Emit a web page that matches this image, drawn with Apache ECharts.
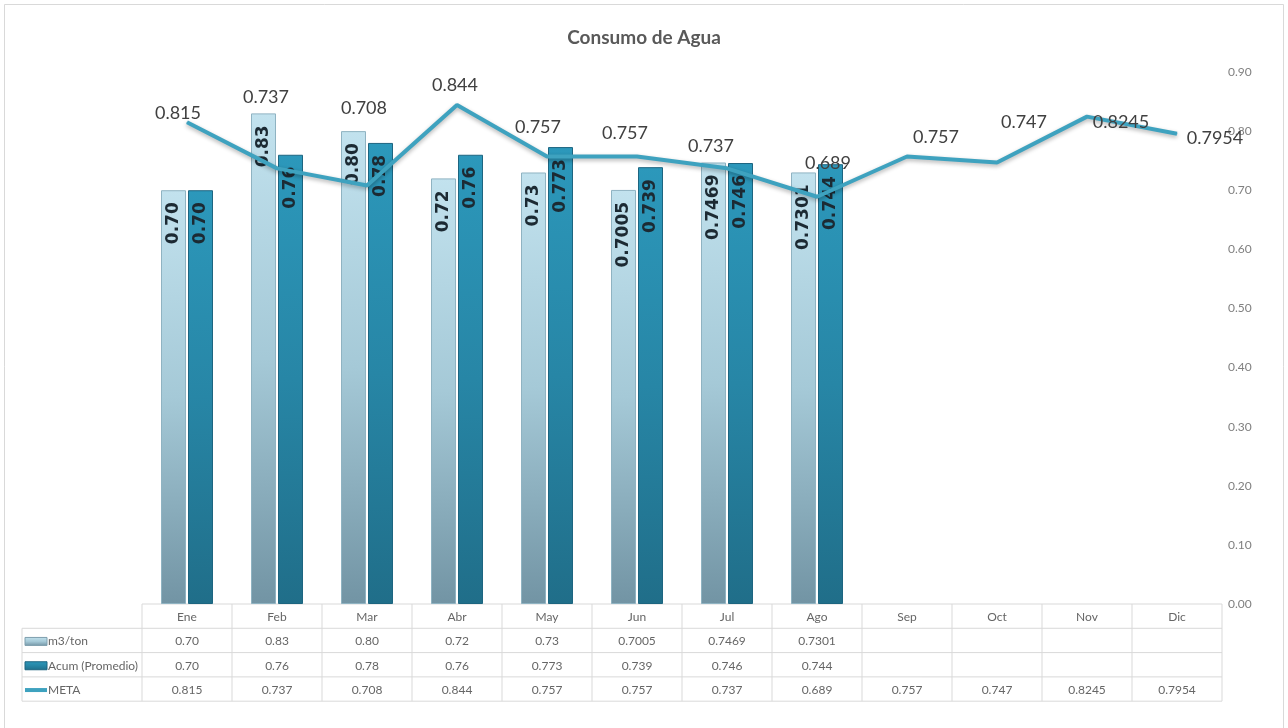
<!DOCTYPE html>
<html>
<head>
<meta charset="utf-8">
<script src="https://cdn.jsdelivr.net/npm/echarts@6/dist/echarts.min.js"></script>
<style>
html,body{margin:0;padding:0;background:#fff;}
#main{width:1288px;height:728px;}
</style>
</head>
<body>
<div id="main"></div>
<script>
const titleText = 'Consumo de Agua';
const months = ['Ene','Feb','Mar','Abr','May','Jun','Jul','Ago','Sep','Oct','Nov','Dic'];
const m3ton = [0.70,0.83,0.80,0.72,0.73,0.7005,0.7469,0.7301,null,null,null,null];
const acum = [0.70,0.76,0.78,0.76,0.773,0.739,0.746,0.744,null,null,null,null];
const meta = [0.815,0.737,0.708,0.844,0.757,0.757,0.737,0.689,0.757,0.747,0.8245,0.7954];
const seriesNames = ['m3/ton','Acum (Promedio)','META'];
const yTicks = [0,0.9,0.1];

// label placement style (not data)
const metaLabelOffset = [[-9,5],[-11,-57],[-3,-63],[-2,-5],[-9,-15],[-12,-9],[-16,-8],[11,-19],[29,-5],[27,-26],[34,20],[38,19]];

function fmt(v){
  if (v === null || v === undefined) return '';
  const s = String(v);
  const dec = (s.split('.')[1] || '').length;
  return dec < 2 ? v.toFixed(2) : s;
}

const chart = echarts.init(document.getElementById('main'));
const lightGrad = new echarts.graphic.LinearGradient(0,0,0,1,[{offset:0,color:'#c2e2ee'},{offset:0.5,color:'#a5c9d7'},{offset:1,color:'#7294a4'}]);
const darkGrad = new echarts.graphic.LinearGradient(0,0,0,1,[{offset:0,color:'#2c98bb'},{offset:0.5,color:'#2786a6'},{offset:1,color:'#206e89'}]);
const barLabel = {
  show:true, rotate:90, position:'insideTop', distance:12, align:'right', verticalAlign:'middle',
  fontFamily:'DejaVu Sans', fontWeight:'bold', fontSize:17, color:'#1c2a33',
  formatter: p => fmt(p.value)
};

chart.setOption({
  animation:false,
  backgroundColor:'#ffffff',
  title:{text:titleText,left:'center',top:23,textStyle:{fontFamily:'Lato',fontWeight:'bold',fontSize:19,color:'#595959'}},
  grid:{left:142,right:66,top:72,bottom:124},
  xAxis:{type:'category',data:months,axisLine:{show:false},axisTick:{show:false},axisLabel:{show:false}},
  yAxis:{type:'value',position:'right',min:yTicks[0],max:yTicks[1],interval:yTicks[2],
    splitLine:{show:false},axisLine:{show:false},axisTick:{show:false},
    axisLabel:{margin:6,color:'#808080',fontFamily:'Lato',fontSize:12,formatter:v=>v.toFixed(2)}},
  series:[
    {name:seriesNames[0],type:'bar',data:m3ton,barWidth:25,barGap:'8%',
      itemStyle:{color:lightGrad,borderColor:'#8fb3c2',borderWidth:1},label:barLabel},
    {name:seriesNames[1],type:'bar',data:acum,barWidth:25,
      itemStyle:{color:darkGrad,borderColor:'#1d6580',borderWidth:1},label:barLabel},
    {name:seriesNames[2],type:'line',z:5,
      data:meta.map((v,i)=>({value:v,label:{offset:metaLabelOffset[i]}})),
      symbol:'circle',symbolSize:1,showSymbol:true,
      itemStyle:{color:'#3ea2bf'},
      lineStyle:{color:'#3ea2bf',width:4,shadowColor:'rgba(0,0,0,0.3)',shadowBlur:4,shadowOffsetY:2},
      label:{show:true,position:'top',fontFamily:'Lato',fontSize:18,color:'#404040',formatter:p=>String(p.value)}}
  ]
});

// data table under the chart
const g = [];
const lineColor = '#d9d9d9';
const cx = months.map((m,i)=>chart.convertToPixel({xAxisIndex:0},i));
const colW = cx[1]-cx[0];
const x0 = cx[0]-colW/2, x1 = cx[cx.length-1]+colW/2;
const y0 = chart.convertToPixel({yAxisIndex:0},0);
const rowH = 24.3;
const legX = 22;
const rows = [m3ton, acum, meta];
const font = '12px Lato, sans-serif';
const txtColor = '#666666';
// horizontal lines
g.push({type:'line',shape:{x1:x0,y1:y0,x2:x1,y2:y0},style:{stroke:lineColor,lineWidth:1}});
for (let r=1;r<=4;r++){
  const y = y0 + rowH*r;
  g.push({type:'line',shape:{x1:legX,y1:y,x2:x1,y2:y},style:{stroke:lineColor,lineWidth:1}});
}
// vertical lines
for (let c=0;c<=months.length;c++){
  const x = x0 + colW*c;
  g.push({type:'line',shape:{x1:x,y1:y0,x2:x,y2:y0+rowH*4},style:{stroke:lineColor,lineWidth:1}});
}
g.push({type:'line',shape:{x1:legX,y1:y0+rowH,x2:legX,y2:y0+rowH*4},style:{stroke:lineColor,lineWidth:1}});
// header
months.forEach((m,i)=>{
  g.push({type:'text',style:{text:m,x:cx[i],y:y0+rowH/2+1,align:'center',verticalAlign:'middle',font:font,fill:txtColor}});
});
rows.forEach((row,r)=>{
  const yc = y0 + rowH*(r+1) + rowH/2 + 1;
  row.forEach((v,i)=>{
    g.push({type:'text',style:{text:fmt(v),x:cx[i],y:yc,align:'center',verticalAlign:'middle',font:font,fill:txtColor}});
  });
  // legend key
  if (r===0) g.push({type:'rect',shape:{x:legX+3,y:yc-4,width:22,height:8},style:{fill:lightGrad,stroke:'#7f9fae',lineWidth:1}});
  if (r===1) g.push({type:'rect',shape:{x:legX+3,y:yc-4,width:22,height:8},style:{fill:darkGrad,stroke:'#1d6580',lineWidth:1}});
  if (r===2) g.push({type:'line',shape:{x1:legX+3,y1:yc,x2:legX+25,y2:yc},style:{stroke:'#3ea2bf',lineWidth:4}});
  g.push({type:'text',style:{text:seriesNames[r],x:legX+26,y:yc,align:'left',verticalAlign:'middle',font:font,fill:txtColor}});
});
// outer frame
g.push({type:'rect',shape:{x:4.5,y:4.5,width:1279,height:740},style:{fill:'none',stroke:'#d9d9d9',lineWidth:1},silent:true});
chart.setOption({graphic:g});
</script>
</body>
</html>
